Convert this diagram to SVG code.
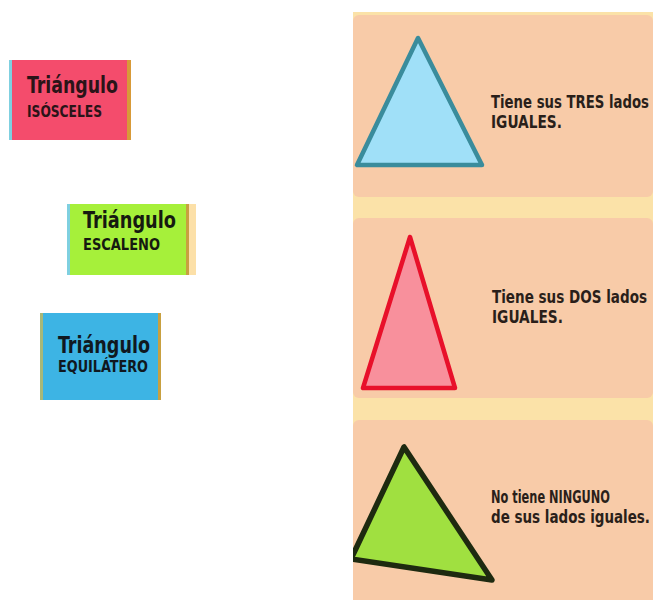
<svg xmlns="http://www.w3.org/2000/svg" width="653" height="600" viewBox="0 0 653 600">
  <defs>
    <style>
      .lbl { font-family: "DejaVu Sans Condensed", "DejaVu Sans", "Liberation Sans", sans-serif; font-weight: bold; }
      .desc { font-family: "DejaVu Sans Condensed", "DejaVu Sans", "Liberation Sans", sans-serif; font-weight: bold; font-size: 18px; fill: #2a1f1a; }
      .panel { fill: #F8CBA8; }
    </style>
    <clipPath id="panelClip">
      <rect x="353" y="12" width="300" height="588"/>
    </clipPath>
  </defs>
  <rect width="653" height="600" fill="#ffffff"/>

  <!-- Left labels -->
  <g id="label-isosceles">
    <rect x="9" y="60" width="4" height="80" fill="#7FD0E0"/>
    <rect x="12" y="60" width="115" height="80" fill="#F44C6C"/>
    <rect x="127" y="60" width="4" height="80" fill="#D89A38"/>
    <text class="lbl" x="27" y="93" font-size="23" fill="#2a1418" textLength="91" lengthAdjust="spacingAndGlyphs">Triángulo</text>
    <text class="lbl" x="27" y="117" font-size="15" fill="#2a1418" textLength="75" lengthAdjust="spacingAndGlyphs">ISÓSCELES</text>
  </g>

  <g id="label-escaleno">
    <rect x="67" y="204" width="3" height="71" fill="#7FD0E0"/>
    <rect x="70" y="204" width="116" height="71" fill="#A6F03A"/>
    <rect x="186" y="204" width="3" height="71" fill="#C8A040"/>
    <rect x="189" y="204" width="7" height="71" fill="#FCE0A8"/>
    <text class="lbl" x="83" y="228" font-size="23" fill="#161a10" textLength="93" lengthAdjust="spacingAndGlyphs">Triángulo</text>
    <text class="lbl" x="83" y="250" font-size="15" fill="#161a10" textLength="77" lengthAdjust="spacingAndGlyphs">ESCALENO</text>
  </g>

  <g id="label-equilatero">
    <rect x="40" y="313" width="3" height="87" fill="#A8B878"/>
    <rect x="43" y="313" width="115" height="87" fill="#3DB4E4"/>
    <rect x="158" y="313" width="3" height="87" fill="#C8A040"/>
    <text class="lbl" x="58" y="353" font-size="23" fill="#101820" textLength="92" lengthAdjust="spacingAndGlyphs">Triángulo</text>
    <text class="lbl" x="58" y="372" font-size="15" fill="#101820" textLength="90" lengthAdjust="spacingAndGlyphs">EQUILÁTERO</text>
  </g>

  <!-- Right panel -->
  <g id="panel-bg">
    <rect x="353" y="12" width="300" height="588" fill="#FBE2A8"/>
    <rect class="panel" x="353" y="15" width="300" height="182" rx="6"/>
    <rect class="panel" x="353" y="218" width="300" height="180" rx="6"/>
    <rect class="panel" x="353" y="420" width="300" height="185" rx="6"/>
  </g>

  <g id="row-equilatero">
    <polygon points="418,38 357,165 482,165" fill="#A0E0F8" stroke="#3A8C9C" stroke-width="4.5" stroke-linejoin="round"/>
    <text class="desc" x="491" y="108" textLength="158" lengthAdjust="spacingAndGlyphs">Tiene sus TRES lados</text>
    <text class="desc" x="491" y="128" textLength="71" lengthAdjust="spacingAndGlyphs">IGUALES.</text>
  </g>

  <g id="row-isosceles">
    <polygon points="410,237 363,388 455,388" fill="#F8909C" stroke="#E8102A" stroke-width="4.5" stroke-linejoin="round"/>
    <text class="desc" x="492" y="303" textLength="155" lengthAdjust="spacingAndGlyphs">Tiene sus DOS lados</text>
    <text class="desc" x="492" y="323" textLength="71" lengthAdjust="spacingAndGlyphs">IGUALES.</text>
  </g>

  <g id="row-escaleno">
    <g clip-path="url(#panelClip)">
      <polygon points="404,447 351,559 492,580" fill="#A0E040" stroke="#1E2A10" stroke-width="5.5" stroke-linejoin="round"/>
    </g>
    <text class="desc" x="491" y="503" textLength="119" lengthAdjust="spacingAndGlyphs">No tiene NINGUNO</text>
    <text class="desc" x="491" y="523" textLength="159" lengthAdjust="spacingAndGlyphs">de sus lados iguales.</text>
  </g>
</svg>
